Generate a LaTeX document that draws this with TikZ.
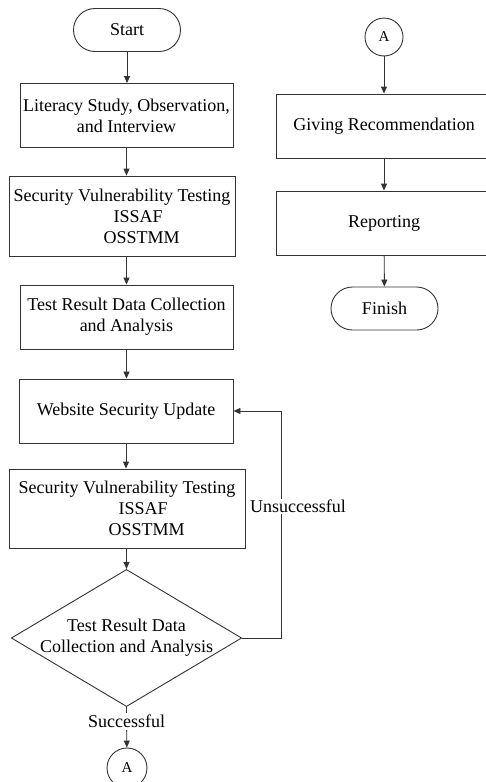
\documentclass[tikz,border=0pt]{standalone}
\usepackage{fontspec}
\setmainfont{Liberation Serif}
\usetikzlibrary{shapes.geometric, positioning, arrows.meta}
\tikzset{
x=1pt, y=-1pt, % one unit per pixel, y runs downwards
>={Triangle[length=7pt, width=6pt]}, % small filled arrow heads
every node/.style={font=\fontsize{18}{21}\selectfont, align=center},
line/.style={draw=black!80, line width=0.9pt}, % all strokes
process/.style={line, rectangle, minimum height=64, inner xsep=1pt}, % plain steps
terminal/.style={line, rectangle, rounded corners=21.5pt, minimum width=107, minimum height=43},
decision/.style={line, diamond, aspect=1.68, inner sep=-1pt},
connector/.style={line, circle, minimum size=38, inner sep=0pt, font=\fontsize{15}{18}\selectfont},
flow/.style={line, ->}, % the connecting arrows
}
\begin{document}
\begin{tikzpicture}
\useasboundingbox (0,0) rectangle (486,782);
% left column
\node[terminal] (start) at (127,30) {Start};
\node[process, minimum width=213] (study) at (126.5,115.5) {Literacy Study, Observation,\\and Interview};
\node[process, minimum width=226, minimum height=80, align=left] (test1) at (122,216) {Security Vulnerability Testing\\\hspace*{100pt}ISSAF\\\hspace*{90pt}OSSTMM};
\node[process, minimum width=213] (result) at (126.5,317) {Test Result Data Collection\\and Analysis};
\node[process, minimum width=214] (update) at (126,411) {Website Security Update};
\node[process, minimum width=236, minimum height=79, align=left] (test2) at (127,508.5) {Security Vulnerability Testing\\\hspace*{100pt}ISSAF\\\hspace*{90pt}OSSTMM};
\node[decision] (check) at (126.5,638) {Test Result Data\\Collection and Analysis};
\node[connector, minimum size=40] (goA) at (127,768) {A};
% right column
\node[connector] (fromA) at (384,37) {A};
\node[process, minimum width=216] (advice) at (384,126) {Giving Recommendation};
\node[process, minimum width=216] (report) at (384,223) {Reporting};
\node[terminal] (finish) at (384.5,308.5) {Finish};
\coordinate (back) at (281,638);
\draw[flow] (start) -- (start |- study.north);
\draw[flow] (study) -- (study |- test1.north);
\draw[flow] (study |- test1.south) -- (result);
\draw[flow] (result) -- (result |- update.north);
\draw[flow] (update) -- (update |- test2.north);
\draw[flow] (check |- test2.south) -- (check);
\draw[flow] (check.east) -- (back) |- node[pos=0.29, fill=white, xshift=17pt, inner sep=1pt] {Unsuccessful} (update.east);
\draw[flow] (check.south) -- node[pos=0.36, fill=white, inner sep=2pt] {Successful} (goA);
\draw[flow] (fromA) -- (advice);
\draw[flow] (advice) -- (report);
\draw[flow] (report) -- (finish);
\end{tikzpicture}
\end{document}
